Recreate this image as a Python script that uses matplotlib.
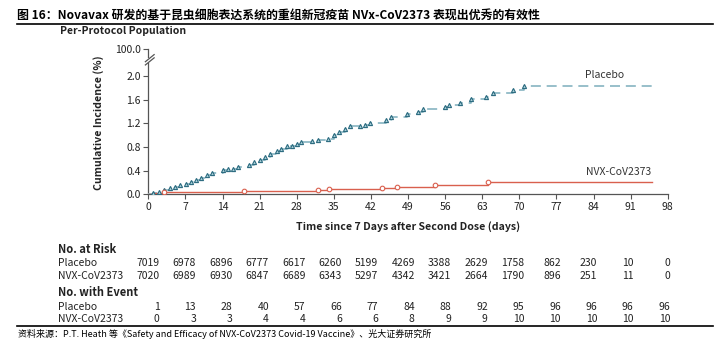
import matplotlib
matplotlib.use("Agg")
import matplotlib.pyplot as plt
from matplotlib.lines import Line2D

plt.rcParams["font.family"] = ["Noto Sans CJK SC", "DejaVu Sans"]

# ---------------- data ----------------
placebo_days = [0, 0.9, 2, 3, 4.1, 5, 6, 7.1, 8, 9, 10, 11, 12, 14.1, 15.1, 16, 17,
                19, 19.9, 21, 22, 22.9, 24.2, 25.1, 26.1, 27.2, 28, 28.9, 30.9, 32,
                33.9, 35, 36, 37.1, 38, 39.9, 40.8, 41.9, 44.9, 45.8, 48.8, 50.8,
                51.9, 55.9, 56.8, 58.9, 60.9, 63.8, 65, 68.9, 70.8]
placebo_inc = [0, 0.017, 0.045, 0.073, 0.10, 0.13, 0.15, 0.17, 0.21, 0.25, 0.27,
               0.32, 0.36, 0.41, 0.42, 0.43, 0.46, 0.50, 0.54, 0.58, 0.63, 0.69,
               0.73, 0.77, 0.81, 0.82, 0.85, 0.88, 0.90, 0.92, 0.94, 1.01, 1.05,
               1.10, 1.15, 1.16, 1.17, 1.20, 1.25, 1.31, 1.36, 1.40, 1.45, 1.48,
               1.51, 1.54, 1.62, 1.65, 1.71, 1.77, 1.84]
vax_days = [0, 1, 2, 3, 18, 32, 34, 44, 47, 54, 64]
vax_inc = [0, 0.014, 0.028, 0.043, 0.056, 0.072, 0.088, 0.105, 0.125, 0.158, 0.20]
curve_end = 95

table_days = [0, 7, 14, 21, 28, 35, 42, 49, 56, 63, 70, 77, 84, 91, 98]
risk_placebo = [7019, 6978, 6896, 6777, 6617, 6260, 5199, 4269, 3388, 2629, 1758, 862, 230, 10, 0]
risk_vax = [7020, 6989, 6930, 6847, 6689, 6343, 5297, 4342, 3421, 2664, 1790, 896, 251, 11, 0]
event_placebo = [1, 13, 28, 40, 57, 66, 77, 84, 88, 92, 95, 96, 96, 96, 96]
event_vax = [0, 3, 3, 4, 4, 6, 6, 8, 9, 9, 10, 10, 10, 10, 10]

y_ticks = [0.0, 0.4, 0.8, 1.2, 1.6, 2.0]
y_top = 2.46   # position standing in for 100.0 above the axis break

TEAL = "#2c6b80"
TEAL_LINE = "#86b4c1"
RED = "#d9604e"
GREY = "#555555"

W, H = 717, 355


def fx(px):
    return px / W


def fy(py):
    return 1 - py / H


fig = plt.figure(figsize=(7.17, 3.55), dpi=100)
ax = fig.add_axes([fx(148.3), fy(194.3), fx(667.7) - fx(148.3), fy(49) - fy(194.3)])

# ---------------- curves ----------------
ax.step(placebo_days + [curve_end], placebo_inc + [placebo_inc[-1]], where="post",
        color=TEAL_LINE, lw=1.2, dashes=(6, 3.5), zorder=3)
ax.plot(placebo_days[1:], placebo_inc[1:], ls="none", marker="^", ms=3.0,
        mfc="#a9cfd8", mec=TEAL, mew=0.8, zorder=5)

ax.step(vax_days + [curve_end], vax_inc + [vax_inc[-1]], where="post",
        color=RED, lw=1.0, zorder=4)
ax.plot(vax_days[3:], vax_inc[3:], ls="none", marker="o", ms=3.3,
        mfc="white", mec=RED, mew=0.8, zorder=6)

ax.text(86, placebo_inc[-1] + 0.09, "Placebo", fontsize=7.5, color="#333333",
        ha="center", va="bottom")
ax.text(88.8, vax_inc[-1] + 0.09, "NVX-CoV2373", fontsize=7.5, color="#333333",
        ha="center", va="bottom")

# ---------------- axes ----------------
ax.set_xlim(0, 98)
ax.set_ylim(0, y_top)
ax.set_xticks(table_days)
ax.set_xticklabels([str(d) for d in table_days], fontsize=7.5, color="#222222")
ax.set_yticks(y_ticks + [y_top])
ax.set_yticklabels([f"{v:.1f}" for v in y_ticks] + ["100.0"], fontsize=7.5,
                   color="#222222")
ax.tick_params(direction="out", length=3.5, width=0.8, color=GREY, pad=2)
for s in ["top", "right", "left"]:
    ax.spines[s].set_visible(False)
ax.spines["bottom"].set_color(GREY)
ax.spines["bottom"].set_linewidth(0.9)

# broken left spine
ax.plot([0, 0], [0, 2.22], color=GREY, lw=0.9, clip_on=False, zorder=2)
ax.plot([0, 0], [2.33, y_top], color=GREY, lw=0.9, clip_on=False, zorder=2)
for off in (0.0, 0.055):
    ax.plot([-0.55, 1.1], [2.19 + off, 2.31 + off], color=GREY, lw=0.9,
            clip_on=False, zorder=2)

fig.text(fx(98.3), fy(123), "Cumulative Incidence (%)", rotation=90,
         fontsize=7.6, fontweight="bold", ha="center", va="center", color="#222222")
fig.text(fx(408), fy(227), "Time since 7 Days after Second Dose (days)",
         fontsize=7.6, fontweight="bold", ha="center", va="center", color="#222222")

# ---------------- title & header ----------------
fig.text(fx(17), fy(15),
         "图 16：Novavax 研发的基于昆虫细胞表达系统的重组新冠疫苗 NVx-CoV2373 表现出优秀的有效性",
         fontsize=8.6, fontweight="bold", ha="left", va="center", color="black")
fig.add_artist(Line2D([fx(17), fx(713)], [fy(23.5), fy(23.5)], color="black", lw=1.2))
fig.text(fx(60), fy(31), "Per-Protocol Population", fontsize=7.5,
         fontweight="bold", ha="left", va="center", color="#222222")

# ---------------- risk table ----------------
lab_x = fx(58)
rows = [
    (249.3, "No. at Risk", None, True),
    (262.7, "Placebo", risk_placebo, False),
    (276.0, "NVX-CoV2373", risk_vax, False),
    (292.3, "No. with Event", None, True),
    (306.7, "Placebo", event_placebo, False),
    (319.0, "NVX-CoV2373", event_vax, False),
]
for py, label, vals, bold in rows:
    fig.text(lab_x, fy(py), label, fontsize=8 if bold else 7.5,
             fontweight="bold" if bold else "normal", ha="left", va="center",
             color="#222222")
    if vals is None:
        continue
    for i, v in enumerate(vals):
        fig.text(fx(159.5 + 36.48 * i), fy(py), str(v), fontsize=7.5,
                 ha="right", va="center", color="#222222")

# ---------------- source ----------------
fig.add_artist(Line2D([fx(17), fx(713)], [fy(326), fy(326)], color="black", lw=1.2))
fig.text(fx(18), fy(334),
         "资料来源：P.T. Heath 等《Safety and Efficacy of NVX-CoV2373 Covid-19 Vaccine》、光大证券研究所",
         fontsize=6.5, ha="left", va="center", color="black")

fig.savefig("out.png", dpi=100, facecolor="white")
